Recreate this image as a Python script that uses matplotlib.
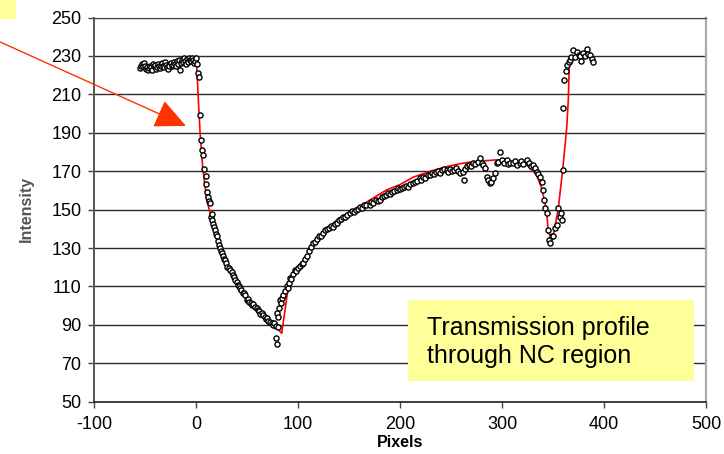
import matplotlib
matplotlib.use('Agg')
import matplotlib.pyplot as plt
import matplotlib.ticker as ticker
from matplotlib.patches import Rectangle

plt.rcParams['font.family'] = ['Liberation Sans', 'DejaVu Sans']
plt.rcParams['axes.unicode_minus'] = False

# measured profile (pixel index, intensity)
meas_x = [
    -55, -54, -53, -52, -51, -50, -49, -48, -47, -46, -45, -44, -43, -42,
    -41, -40, -39, -38, -37, -36, -35, -34, -33, -32, -31, -30, -29, -28,
    -27, -26, -25, -24, -23, -22, -21, -20, -19, -18, -17, -16, -15, -14,
    -13, -12, -11, -10, -9, -8, -7, -6, -5, -4, -3, -2, -1, 0, 1, 2, 2.5,
    4, 4.5,
    5.6, 7.2, 8.2, 9.5, 9.8, 11.1, 12.1, 13.2, 13.7, 14.7, 15.5, 16, 17,
    17.8, 18.6, 19.5, 20.3, 21.5, 22.8, 23.5, 24.5, 25.2, 26.5, 27.5, 28.4,
    29.5, 30.7, 32, 33, 35, 36, 37, 38.5, 39.9, 41, 42, 43, 44.5, 46, 47,
    48, 49.7, 51, 52, 53.5, 55, 56, 57.5, 59.5, 60.5, 62, 63, 64.5, 66,
    67.6, 68.5, 70, 71, 72.5, 74.2, 75.5, 76.5, 78, 80.4, 78.1, 79,
    79.7, 80.5, 81.5, 82.4, 83.5, 84.5, 85.6, 87, 88.9, 90, 91, 92, 93.5,
    95, 97, 98.5, 100, 102, 104, 105, 107, 109, 111, 113, 115, 117, 119,
    121, 123, 124.8, 126.5, 128, 130, 132, 134, 136, 138, 140, 142, 144.4,
    146, 148, 151, 153, 155, 157, 159, 161, 163, 165, 167, 170.6, 172, 174,
    176, 178, 180, 182, 184, 186, 188, 190, 192, 194, 196.8, 198, 200, 202,
    204, 206, 208, 210, 213, 215, 217, 219.6, 221, 223, 225, 227, 229.4,
    231, 233, 235, 237, 239, 241, 243, 245.8, 247, 249, 251, 253, 255, 257,
    259, 262, 262.7, 264, 266, 268, 270, 271.9, 274, 276, 278.4, 280, 281.5,
    283.3, 285, 286.5, 288.2, 289.5, 291.5, 293.1, 294.8, 296, 298, 300,
    302, 304.6, 306, 308, 311, 313, 315, 317.6, 319, 321, 324.2, 326, 328,
    330.7, 332, 334, 335.5, 337.3, 338.9, 339.9, 341.2, 342.2, 343.8, 344.8,
    346, 347, 348.7, 350.3, 352, 353.5, 355.2, 356.9, 357.5, 358.5, 359.5,
    360, 361, 362.7, 364, 365.5, 366.7, 368, 370, 371.6, 373.2, 375, 376.5,
    377.5, 379.7, 381, 383, 384.5, 386.3, 388, 389.5,
]
meas_y = [
    223.5, 225, 226, 224.5, 226.5, 225, 223, 224, 222.5, 223.5, 225, 224,
    222.5, 226, 224.5, 225.5, 223, 224, 226, 225, 223.5, 224.5, 226.5, 225,
    224, 227, 225.5, 224, 223, 225, 226.5, 224.5, 225.5, 227, 226, 225,
    227.5, 226, 228, 222.5, 226.5, 228, 227, 229, 227.5, 226, 228.5, 227,
    229, 228, 227.5, 229, 228, 226.5, 227.5, 229, 226, 221, 219, 199, 186,
    181, 178.5, 171.2, 167.6, 163.2, 159.4, 156.5, 154.5, 153.3, 146.4,
    147.5, 144.5, 142.5, 141, 139.4, 137.5, 136, 133.5, 131.6, 130, 128.5,
    127.3, 126, 124.5, 123.8, 122, 120.3, 119.5, 118.5, 117.7, 116, 115,
    113.5, 112.5, 111, 110, 109, 108, 106.5, 106.5, 105.6, 103, 103.5, 102,
    101.5, 100.5, 101, 99.5, 98.6, 97.5, 97, 95.5, 96, 95, 94.3, 93, 93.5,
    92, 91.5, 90.8, 90, 91, 89.5, 89, 83.3, 79.9,
    96, 94, 99, 103, 101.5, 104, 105.6, 107.5, 110, 109, 112, 114.3, 114,
    116.5, 118.6, 118, 119.5, 120.5, 121.5, 122, 124.5, 126, 128.5, 130.5,
    132.5, 133, 134.5, 136, 136.5, 137.7, 139.5, 140, 140.5, 141.5, 141,
    142.5, 143, 144.5, 145, 146.4, 146, 147, 148, 149.5, 149, 150, 150.5,
    151.5, 151, 152.5, 152.4, 152.4, 154, 153.5, 155, 154.5, 155, 156.5,
    157, 157.5, 158.5, 158, 159, 159.5, 160.3, 161, 160.5, 161.5, 162,
    162.5, 162, 163.5, 163.7, 164.5, 165, 166.3, 165.5, 167, 166.5, 168,
    168, 169, 168.5, 169.5, 170, 169, 170.5, 171, 170.7, 169.5, 171, 170,
    170.5, 171.5, 170, 169, 169.8, 165.5, 171, 172.5, 173, 172.5, 174.2,
    173.5, 175, 176.8, 174.5, 173, 171.6, 167.2, 165.5, 163.7, 164.5, 166.4,
    169, 174.2, 175, 180.2, 176, 174.5, 175.9, 173.5, 174.5, 174.2, 175.5,
    173, 174.2, 175.5, 173.5, 175.9, 174, 172.5, 173.3, 171.5, 169.8, 168.5,
    167.2, 164.6, 160.3, 155, 150.7, 148.1, 139.4, 134.2, 132.5, 136.3, 136,
    140.3, 142, 150.7, 146.4, 148, 144.6, 170.7, 202.8, 217.5, 222.4, 225.4,
    227, 228, 229.5, 233.2, 229.4, 232.3, 230.5, 229.7, 227.1, 231.5, 230,
    233.5, 231, 230.6, 228.5, 227,
]

# fitted profile
fit_x = [0, 1, 2.3, 4, 6.5, 10.5, 15, 20, 30, 40, 50, 60, 70, 80, 84, 87.3,
         90.5, 97, 105, 115, 125, 138, 154.2, 170.6, 187, 200, 213, 230,
         245.8, 260, 272, 285, 294.8, 311, 324, 334, 338.9, 341.5, 343.8,
         345.4, 347.6, 350.3, 355.2, 359.5, 363.4, 365, 366, 368, 375, 385,
         388]
fit_y = [230, 222, 207, 190, 172.4, 155, 146, 137, 121, 112, 104, 98, 92,
         88, 85.6, 97.8, 110, 116.9, 123, 131, 138, 144.6, 149.8, 155, 160.3,
         163, 166.9, 170, 172.4, 174, 175, 175.5, 175.9, 175, 173.3, 168,
         161.1, 155, 149, 137.7, 136.6, 136.6, 150.7, 170.7, 192.4, 207, 227,
         229, 229.5, 230.5, 229]

x_ticks = [-100, 0, 100, 200, 300, 400, 500]
y_ticks = [50, 70, 90, 110, 130, 150, 170, 190, 210, 230, 250]

fig = plt.figure(figsize=(7.24, 4.54), dpi=100)
ax = fig.add_axes([94 / 724, 1 - 401.7 / 454, 612 / 724, 384.2 / 454])

ax.plot(fit_x, fit_y, color='#ff0000', linewidth=1.2, zorder=3)
ax.plot(meas_x, meas_y, linestyle='none', marker='o', markersize=3.7,
        markerfacecolor='white', markeredgecolor='black',
        markeredgewidth=1.0, zorder=4)

ax.set_xlim(-100, 500)
ax.set_ylim(50, 250)
ax.xaxis.set_major_locator(ticker.FixedLocator(x_ticks))
ax.yaxis.set_major_locator(ticker.FixedLocator(y_ticks))
ax.grid(axis='y', color='#2a2a2a', linewidth=1.0)
ax.set_axisbelow(True)
ax.tick_params(axis='both', direction='out', length=4, width=1,
               color='#444444', labelsize=13)
ax.tick_params(axis='x', pad=6)
ax.tick_params(axis='y', pad=5)

ax.spines['left'].set_color('#555555')
ax.spines['left'].set_linewidth(1.4)
ax.spines['bottom'].set_color('#222222')
ax.spines['bottom'].set_linewidth(1.2)
ax.spines['top'].set_color('#444444')
ax.spines['right'].set_color('#aaaaaa')
ax.spines['right'].set_linewidth(1.6)

ax.set_xlabel('Pixels', fontsize=11.5, fontweight='bold', labelpad=2)
fig.text(26 / 724, 1 - 209 / 454, 'Intensity', rotation=90, fontsize=11.5,
         fontweight='bold', color='#555555', ha='center', va='center')

# yellow note boxes
fig.patches.append(Rectangle((0, 1 - 19 / 454), 16 / 724, 19 / 454,
                             transform=fig.transFigure,
                             facecolor='#ffff99', edgecolor='none'))
fig.patches.append(Rectangle((408 / 724, 1 - 381 / 454), 286 / 724,
                             81 / 454, transform=fig.transFigure,
                             facecolor='#ffff99', edgecolor='none',
                             zorder=5))
fig.text(427 / 724, 1 - 328 / 454, 'Transmission profile', fontsize=18,
         ha='left', va='center', zorder=6)
fig.text(427 / 724, 1 - 356 / 454, 'through NC region', fontsize=18,
         ha='left', va='center', zorder=6)

ax.annotate('', xy=(186, 454 - 126), xycoords='figure pixels',
            xytext=(-2, 454 - 41), textcoords='figure pixels',
            arrowprops=dict(arrowstyle='-|>,head_length=1.4,head_width=0.65',
                            color='#ff3300', linewidth=1.0,
                            mutation_scale=14, shrinkA=0, shrinkB=0),
            annotation_clip=False)

plt.savefig('out.png', dpi=100)
